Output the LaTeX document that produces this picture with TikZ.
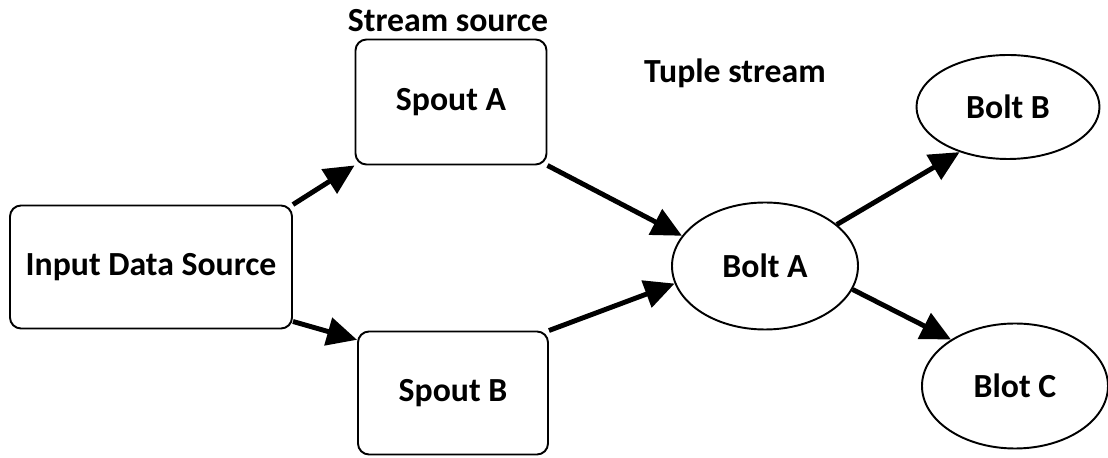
\documentclass[tikz,border=0pt]{standalone}
\usepackage{fontspec}
\setmainfont{Carlito}
\usepackage{tikz}
\usetikzlibrary{arrows.meta, positioning, shapes}

\begin{document}
\begin{tikzpicture}[
        font=\fontsize{19.2}{22}\selectfont\bfseries,
        box/.style={draw,line width=1.1pt,rounded corners=0.22cm,inner sep=0pt},
        bolt/.style={draw,ellipse,line width=1.1pt,inner sep=0pt},
        flow/.style={-{Triangle[length=0.6cm,width=0.56cm]},line width=2.8pt}]
        \useasboundingbox (0,0) rectangle (22.16,-9.16);
        \node[box,minimum width=5.64cm,minimum height=2.46cm] (input) at (3.02,-5.34){Input Data Source};
        \node[box,minimum width=3.82cm,minimum height=2.5cm] (spoutA) at (9.02,-2.04){Spout A};
        \node[box,minimum width=3.8cm,minimum height=2.46cm] (spoutB) at (9.06,-7.86){Spout B};
        \node[bolt,minimum width=3.72cm,minimum height=2.54cm] (boltA) at (15.3,-5.32){Bolt A};
        \node[bolt,minimum width=3.66cm,minimum height=2.08cm] (boltB) at (20.16,-2.14){Bolt B};
        \node[bolt,minimum width=3.72cm,minimum height=2.5cm] (blotC) at (20.3,-7.72){Blot C};
        \node (streamsrc) at (8.96,-0.42){Stream source};
        \node (tuplestream) at (14.7,-1.46){Tuple stream};
        \draw[flow] (input.north east) -- (spoutA.south west);
        \draw[flow] (input.-21) -- (spoutB.151);
        \draw[flow] (spoutA.south east) -- (boltA.160);
        \draw[flow] (spoutB.north east) -- (boltA.-169);
        \draw[flow] (boltA.30) -- (boltB.-137);
        \draw[flow] (boltA.-15) -- (blotC.144);
    \end{tikzpicture}
\end{document}
